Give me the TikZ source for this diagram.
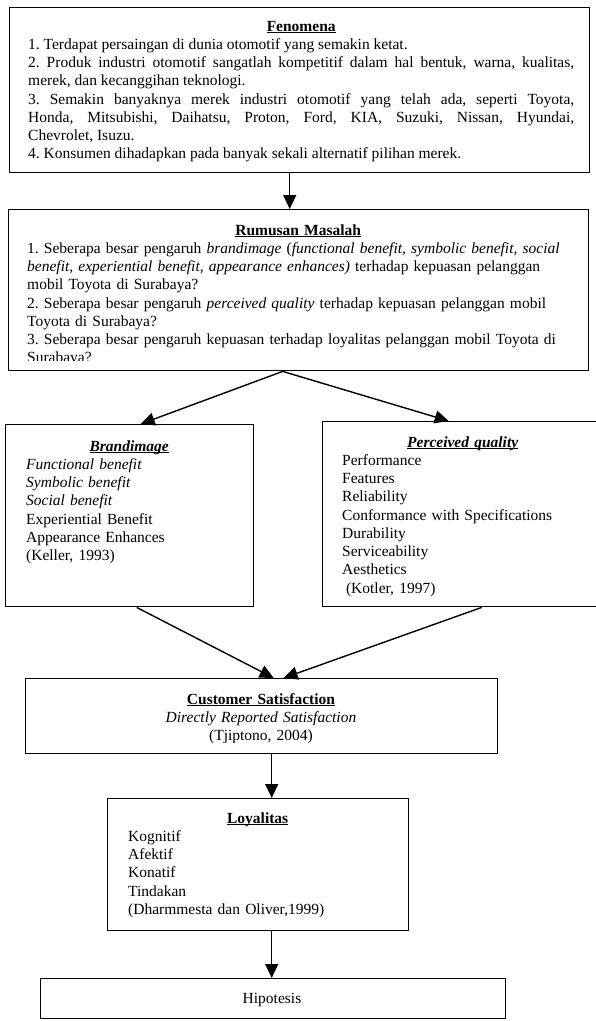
\documentclass[tikz,border=0pt]{standalone}
\usepackage{fontspec}
\setmainfont{Liberation Serif}
\usetikzlibrary{arrows.meta}
\frenchspacing

\newcommand{\boxtitle}[1]{{\centering\textbf{\underline{\smash{#1}}}\par}}

\tikzset{
  box/.style={draw, line width=1.4pt, inner sep=0pt, anchor=north west},
  txt/.style={inner sep=0pt, anchor=base west, font=\fontsize{15.5pt}{18.25pt}\selectfont},
  arr/.style={line width=1.4pt, -{Triangle[length=14pt,width=13pt]}},
}

\begin{document}
\begin{tikzpicture}[x=1pt,y=-1pt]
  \useasboundingbox (0,0) rectangle (596,1021);
  \clip (0,0) rectangle (596,1021);
  % boxes
  \node[box, minimum width=580pt, minimum height=165pt] (fenomena) at (9,7) {};
  \node[box, minimum width=580pt, minimum height=161pt] (rumusan) at (8,209) {};
  \node[box, minimum width=248pt, minimum height=182pt] (brand) at (5,424) {};
  \node[box, minimum width=281pt, minimum height=185pt] (perceived) at (322,421) {};
  \node[box, minimum width=472pt, minimum height=75pt] (customer) at (25,678) {};
  \node[box, minimum width=301pt, minimum height=132pt] (loyalitas) at (107,798) {};
  \node[box, minimum width=465pt, minimum height=40pt] (hipotesis) at (40,978) {};
  % texts
  \node[txt, text width=546pt, align=justify] (fenomenatext) at (28,31) {%
    \boxtitle{Fenomena}
    1. Terdapat persaingan di dunia otomotif yang semakin ketat.\par
    2. Produk industri otomotif sangatlah kompetitif dalam hal bentuk, warna, kualitas,\linebreak merek, dan kecanggihan teknologi.\par
    3. Semakin banyaknya merek industri otomotif yang telah ada, seperti Toyota,\linebreak Honda, Mitsubishi, Daihatsu, Proton, Ford, KIA, Suzuki, Nissan, Hyundai,\linebreak Chevrolet, Isuzu.\par
    4. Konsumen dihadapkan pada banyak sekali alternatif pilihan merek.};
  \begin{scope}
    \clip (rumusan.north west) rectangle ([yshift=11pt]rumusan.south east);
    \node[txt, text width=542pt, align=left] (rumusantext) at (27,235) {%
      \boxtitle{Rumusan Masalah}
      1. Seberapa besar pengaruh \textit{brandimage} (\textit{functional benefit, symbolic benefit, social}\\
      \textit{benefit, experiential benefit, appearance enhances)} terhadap kepuasan pelanggan\\
      mobil Toyota di Surabaya?\\
      2. Seberapa besar pengaruh \textit{perceived quality} terhadap kepuasan pelanggan mobil\\
      Toyota di Surabaya?\\
      3. Seberapa besar pengaruh kepuasan terhadap loyalitas pelanggan mobil Toyota di\\
      Surabaya?};
  \end{scope}
  \node[txt, text width=206pt, align=left] (brandtext) at (26,451) {%
    \boxtitle{\textit{Brandimage}}
    \textit{Functional benefit}\\
    \textit{Symbolic benefit}\\
    \textit{Social benefit}\\
    Experiential Benefit\\
    Appearance Enhances\\
    (Keller, 1993)};
  \node[txt, text width=241pt, align=left] (perceivedtext) at (342,447) {%
    \boxtitle{\textit{Perceived quality}}
    Performance\\
    Features\\
    Reliability\\
    Conformance with Specifications\\
    Durability\\
    Serviceability\\
    Aesthetics\\
    \hspace*{.25em}(Kotler, 1997)};
  \begin{scope}
    \clip (customer.north west) rectangle ([yshift=12pt]customer.south east);
    \node[txt, anchor=base, text width=440pt, align=center] (customertext) at (261,704) {%
      \textbf{\underline{\smash{Customer Satisfaction}}}\\
      \textit{Directly Reported Satisfaction}\\
      (Tjiptono, 2004)};
  \end{scope}
  \node[txt, text width=259pt, align=left] (loyalitastext) at (128,823) {%
    \boxtitle{Loyalitas}
    Kognitif\\
    Afektif\\
    Konatif\\
    Tindakan\\
    (Dharmmesta dan Oliver,1999)};
  \node[txt, anchor=base] (hipotesistext) at (272,1003) {Hipotesis};
  % connectors
  \draw[arr] ([xshift=-10pt]fenomena.south) -- ([xshift=-9pt]rumusan.north);
  \draw[arr] ([xshift=-16pt]rumusan.south) -- ([xshift=11pt]brand.north);
  \draw[arr] ([xshift=-16pt]rumusan.south) -- ([xshift=-14.5pt]perceived.north);
  \draw[arr] ([xshift=7pt]brand.south) -- ([xshift=12pt]customer.north);
  \draw[arr] ([xshift=18.5pt]perceived.south) -- ([xshift=22pt]customer.north);
  \draw[arr] ([xshift=10pt]customer.south) -- ([xshift=13.5pt]loyalitas.north);
  \draw[arr] ([xshift=13.5pt]loyalitas.south) -- ([xshift=-1.5pt]hipotesis.north);
\end{tikzpicture}
\end{document}
